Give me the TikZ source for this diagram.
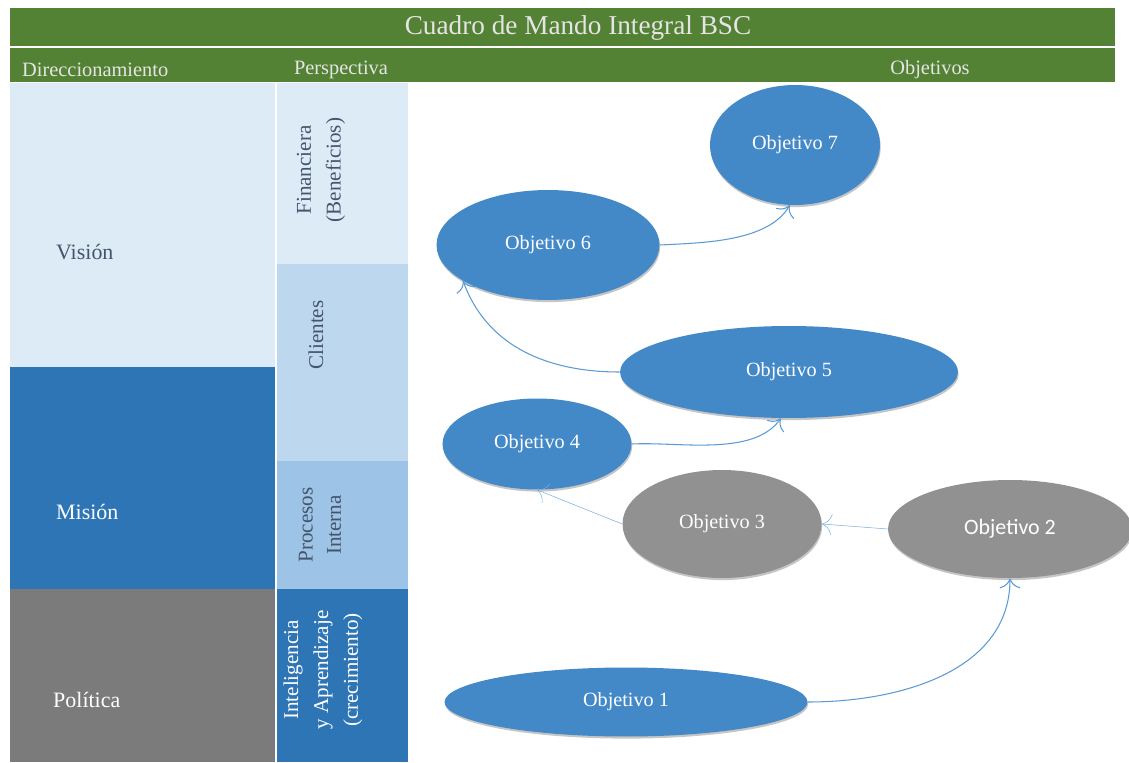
\documentclass[tikz,border=0pt]{standalone}
\usepackage{fontspec}
\setmainfont{Liberation Serif}
\newfontfamily\calibri{Carlito}
\usetikzlibrary{arrows.meta,shapes.geometric,shadows}
\definecolor{bscG}{RGB}{84,130,53}
\definecolor{bscL}{RGB}{221,235,247}
\definecolor{bscM}{RGB}{189,215,238}
\definecolor{bscP}{RGB}{157,195,230}
\definecolor{bscB}{RGB}{46,117,182}
\definecolor{bscK}{RGB}{123,123,123}
\definecolor{bscO}{RGB}{68,137,199}
\definecolor{bscS}{RGB}{145,145,145}
\definecolor{bscA}{RGB}{91,155,213}
\definecolor{bscT}{RGB}{68,84,106}

\begin{document}
\begin{tikzpicture}[x=0.02cm,y=0.02cm,>={To[length=2mm]},
  obj/.style={ellipse,fill=bscO,text=white,inner sep=0pt,font=\fontsize{11.5}{13}\selectfont,
    drop shadow={shadow xshift=0.4pt,shadow yshift=-1.2pt,fill=black!45}},
  link/.style={->,bscA,semithick},
  weak/.style={->,bscA!80,line width=0.3pt},
  head/.style={text=white!90!black,font=\fontsize{11.6}{13}\selectfont},
  side/.style={rotate=90,align=center,font=\fontsize{12}{17}\selectfont}]
\useasboundingbox (0,0) rectangle (1129,762);
\fill[white] (0,0) rectangle (1129,762);
% header bars
\fill[bscG] (10,754) rectangle (1115,716);
\fill[bscG] (10,714) rectangle (1115,680);
\node[head,font=\fontsize{15.5}{17}\selectfont] (title) at (578,734) {Cuadro de Mando Integral BSC};
\node[head,anchor=west] (dir) at (16,692) {Direccionamiento};
\node[head] (per) at (341,692) {Perspectiva};
\node[head] (objs) at (930,692) {Objetivos};
% direccionamiento column
\fill[bscL] (10,679) rectangle (275,395);
\fill[bscB] (10,395) rectangle (275,173);
\fill[bscK] (10,173) rectangle (275,0);
\node[anchor=west,text=bscT,font=\fontsize{12.5}{14}\selectfont] (vis) at (50,510) {Visión};
\node[anchor=west,text=white,font=\fontsize{12.5}{14}\selectfont] (mis) at (50,250) {Misión};
\node[anchor=west,text=white,font=\fontsize{12.5}{14}\selectfont] (pol) at (47,62) {Política};
% perspectiva column
\fill[bscL] (277,679) rectangle (408,498);
\fill[bscM] (277,498) rectangle (408,301);
\fill[bscP] (277,301) rectangle (408,173);
\fill[bscB] (277,173) rectangle (408,0);
\node[side,text=bscT] (fin) at (321,592) {Financiera\\(Beneficios)};
\node[side,text=bscT] (cli) at (316,427) {Clientes};
\node[side,text=bscT,font=\fontsize{12}{16}\selectfont] (pro) at (320,237) {Procesos\\Interna};
\node[side,text=white] (int) at (323,92) {Inteligencia\\y Aprendizaje\\(crecimiento)};
% objetivos
\node[obj,minimum width=3.4cm,minimum height=2.4cm] (o7) at (795,617) {Objetivo 7};
\node[obj,minimum width=4.46cm,minimum height=2.2cm] (o6) at (548,517) {Objetivo 6};
\node[obj,minimum width=6.76cm,minimum height=1.84cm] (o5) at (789,390) {Objetivo 5};
\node[obj,minimum width=3.78cm,minimum height=1.82cm] (o4) at (537,318) {Objetivo 4};
\node[obj,fill=bscS,minimum width=3.98cm,minimum height=2.16cm] (o3) at (722,238) {Objetivo 3};
\node[obj,fill=bscS,minimum width=4.88cm,minimum height=1.96cm,font=\calibri\fontsize{12.5}{14}\selectfont] (o2) at (1010,233) {Objetivo 2};
\node[obj,minimum width=7.26cm,minimum height=1.38cm] (o1) at (626,60) {Objetivo 1};
% enlaces
\draw[link] (o1.east) to[out=0,in=-90] (o2.south);
\draw[weak] (o2.west) -- (o3.east);
\draw[weak] (o3.west) -- (o4.south);
\draw[link] (o4.east) to[out=3,in=-125,looseness=0.8] (o5.-100);
\draw[link] (o5.west) to[out=180,in=-70] (o6.-157);
\draw[link] (o6.east) to[out=3,in=-120,looseness=0.8] (o7.-95);
\end{tikzpicture}
\end{document}
